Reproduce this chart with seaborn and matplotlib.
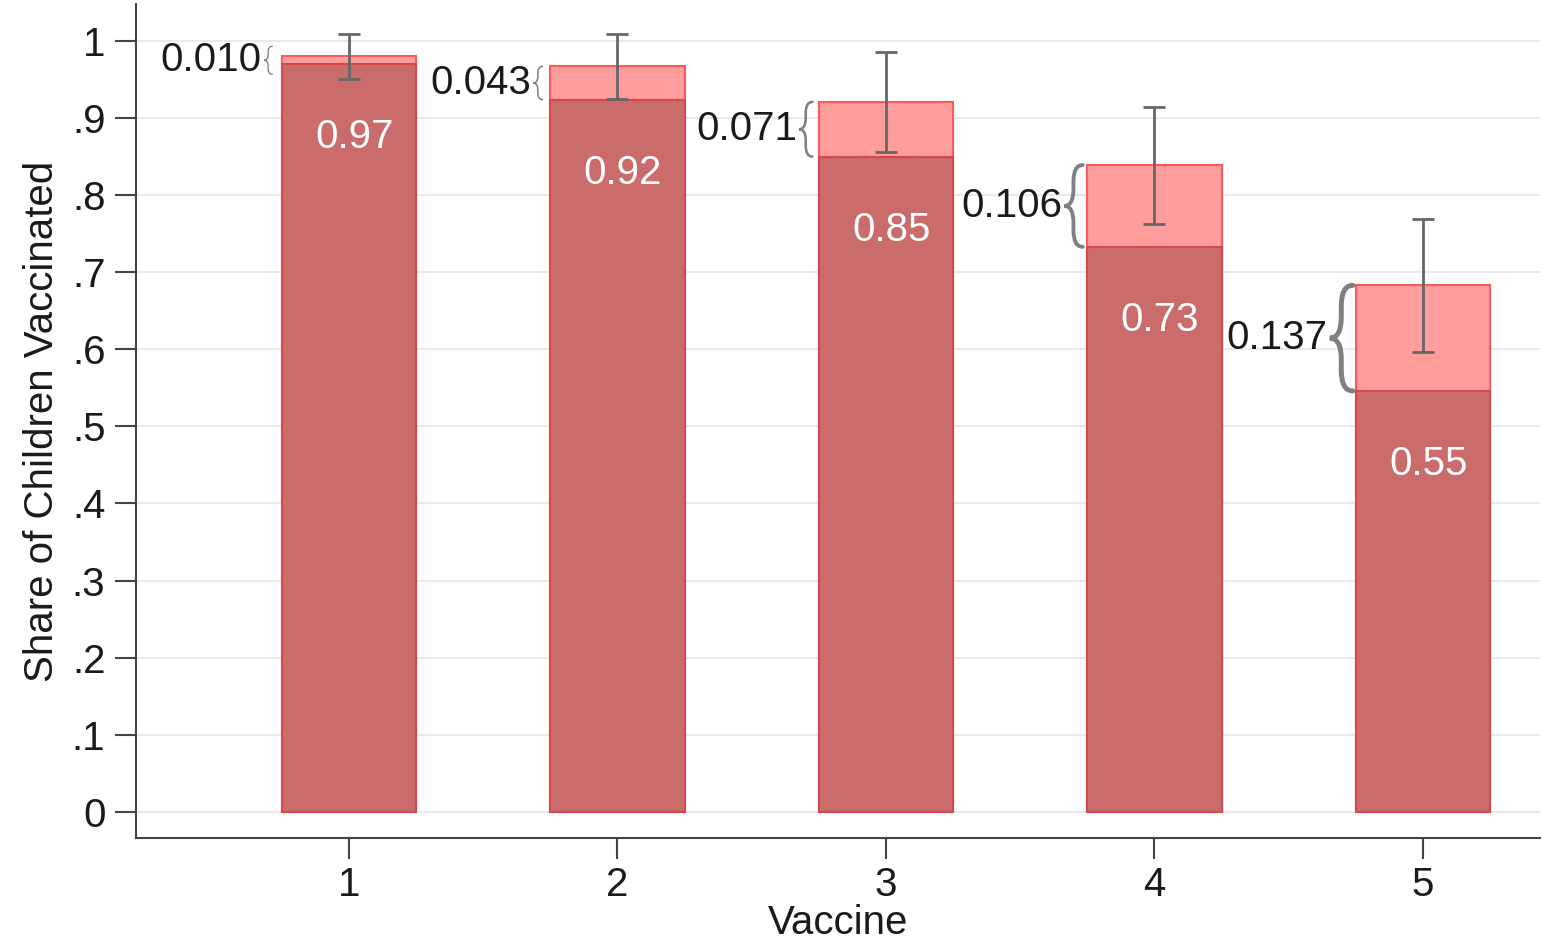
import pandas as pd
import matplotlib.pyplot as plt
import numpy as np
import seaborn as sns
from matplotlib.path import Path
from matplotlib.patches import PathPatch

# данные
vaccines = ["1", "2", "3", "4", "5"]
base_share = [0.970, 0.924, 0.850, 0.733, 0.546]
gap_share = [0.010, 0.043, 0.071, 0.106, 0.137]
ci_half = [0.029, 0.042, 0.065, 0.076, 0.086]
y_ticks = [0, .1, .2, .3, .4, .5, .6, .7, .8, .9, 1]

total_share = [b + g for b, g in zip(base_share, gap_share)]
df = pd.DataFrame({"vaccine": vaccines, "base": base_share, "total": total_share})

sns.set_style("white")
plt.rcParams['font.family'] = ['Liberation Sans', 'DejaVu Sans']
FS = 29

W, H, DPI = 1542, 948, 100
fig = plt.figure(figsize=(W / DPI, H / DPI), dpi=DPI)
ax_l, ax_r, ax_b, ax_t = 136 / W, 1540 / W, 1 - 838 / H, 1 - 4 / H
ax = fig.add_axes([ax_l, ax_b, ax_r - ax_l, ax_t - ax_b])

pink, pink_edge = "#FF9C9C", "#FF5A5A"
dark, dark_edge = "#CB6C6C", "#D94848"

ax.set_axisbelow(True)
ax.yaxis.grid(True, color="#EAEAEA", linewidth=1.5)

sns.barplot(data=df, x="vaccine", y="total", order=vaccines, color=pink,
            saturation=1, width=0.5, edgecolor=pink_edge, linewidth=1.5,
            errorbar=None, ax=ax)
sns.barplot(data=df, x="vaccine", y="base", order=vaccines, color=dark,
            saturation=1, width=0.5, edgecolor=dark_edge, linewidth=1.5,
            errorbar=None, ax=ax)

xpos = np.arange(len(vaccines))
ax.errorbar(xpos, total_share, yerr=ci_half, fmt="none", ecolor="#666666",
            elinewidth=2, capsize=8, capthick=2, zorder=5)

xlim = (-0.793, 4.436)
ylim = (-0.034, 1.048)
ax.set_xlim(*xlim)
ax.set_ylim(*ylim)

# пересчёт пикселей в единицы данных
ax_w_px = (ax_r - ax_l) * W
ax_h_px = (ax_t - ax_b) * H
x_per_px = (xlim[1] - xlim[0]) / ax_w_px
y_per_px = (ylim[1] - ylim[0]) / ax_h_px


def brace(x_right, yc, h, w, lw):
    y0, y1 = yc - h / 2, yc + h / 2
    xm, xt = x_right - w / 2, x_right - w
    r = h * 0.2
    verts = [(x_right, y1), (xm, y1), (xm, y1 - r), (xm, yc + r), (xm, yc), (xt, yc),
             (xm, yc), (xm, yc - r), (xm, y0 + r), (xm, y0), (x_right, y0)]
    codes = [Path.MOVETO, Path.CURVE3, Path.CURVE3, Path.LINETO, Path.CURVE3, Path.CURVE3,
             Path.CURVE3, Path.CURVE3, Path.LINETO, Path.CURVE3, Path.CURVE3]
    ax.add_patch(PathPatch(Path(verts, codes), facecolor="none", edgecolor="#808080",
                           linewidth=lw, capstyle="round", zorder=6))


for i, (b, g, t) in enumerate(zip(base_share, gap_share, total_share)):
    # подпись внутри тёмного столбца
    ax.text(i + 0.02, b - 0.095, f"{b:.2f}", color="white", fontsize=FS,
            ha="center", va="center", zorder=7)
    # фигурная скобка и разница
    h_px = max(g / y_per_px, 28)
    w_px = 0.19 * h_px + 3
    lw = max(0.8, h_px * 0.034)
    gap_px = 10 - 7 * min(g / 0.137, 1)
    x_right = i - 0.25 - gap_px * x_per_px
    yc = b + g / 2
    brace(x_right, yc, h_px * y_per_px, w_px * x_per_px, lw)
    ax.text(x_right - (w_px + 2) * x_per_px, yc, f"{g:.3f}", color="#1a1a1a",
            fontsize=FS, ha="right", va="center", zorder=7)

ax.set_yticks(y_ticks)
ax.yaxis.set_major_formatter(plt.FuncFormatter(
    lambda v, p: "0" if v == 0 else ("1" if abs(v - 1) < 1e-9 else f"{v:.1f}".lstrip("0"))))
ax.tick_params(axis="both", which="major", labelsize=FS, length=15, width=1.5,
               color="#444444", labelcolor="#1a1a1a", direction="out")
ax.tick_params(axis="y", pad=7, left=True)
ax.tick_params(axis="x", pad=5, bottom=True)

ax.set_xlabel("Vaccine", fontsize=FS, color="#1a1a1a", labelpad=0)
ax.set_ylabel("Share of Children Vaccinated", fontsize=FS, color="#1a1a1a", labelpad=8)

for s in ["top", "right"]:
    ax.spines[s].set_visible(False)
for s in ["left", "bottom"]:
    ax.spines[s].set_color("#444444")
    ax.spines[s].set_linewidth(1.5)

fig.savefig("out.png", dpi=DPI)
